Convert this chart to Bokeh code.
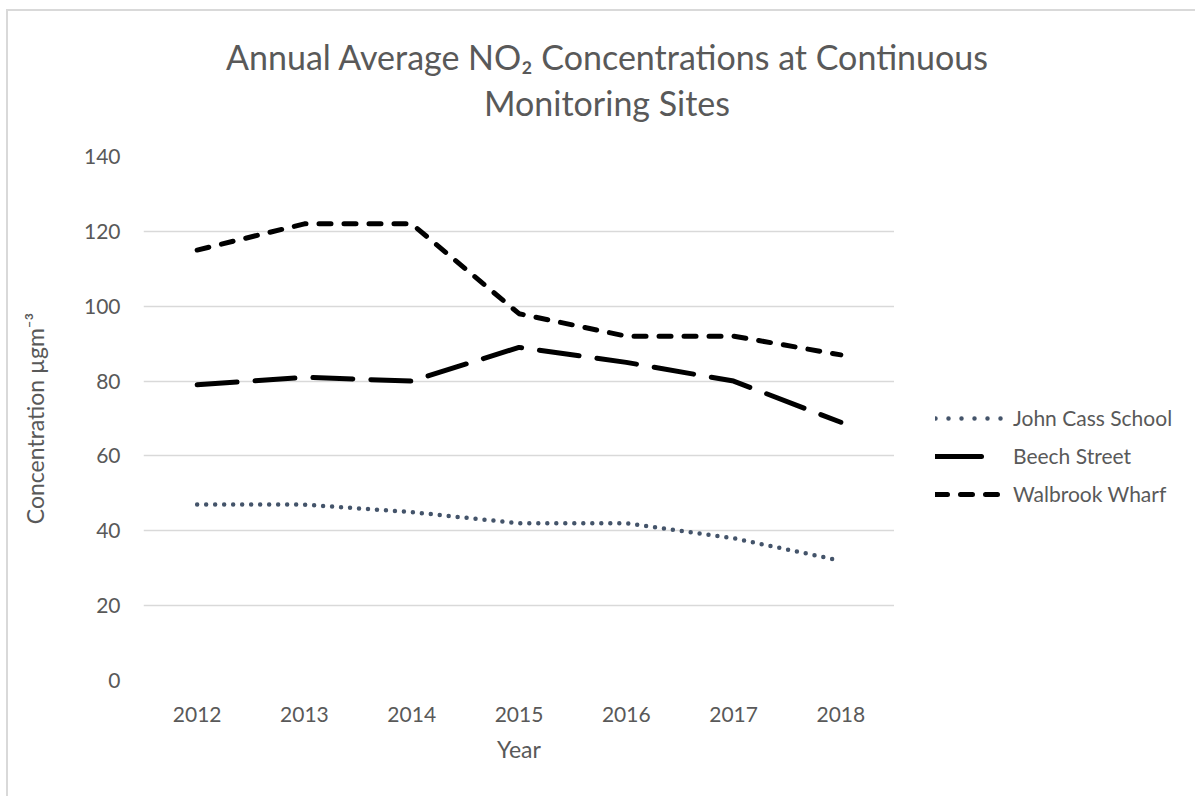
from bokeh.plotting import figure
from bokeh.layouts import row, column
from bokeh.models import Legend, LegendItem, FactorRange, Range1d, SingleIntervalTicker, Div
from bokeh.embed import file_html
from bokeh.resources import INLINE

years = ["2012", "2013", "2014", "2015", "2016", "2017", "2018"]
john_cass = [47, 47, 45, 42, 42, 38, 32]
beech_street = [79, 81, 80, 89, 85, 80, 69]
walbrook_wharf = [115, 122, 122, 98, 92, 92, 87]
series_names = ["John Cass School", "Beech Street", "Walbrook Wharf"]
title_lines = ["Annual Average NO\u2082 Concentrations at Continuous", "Monitoring Sites"]

FONT = "Lato"
TXT = "#595959"
GRID = "#d9d9d9"

# title block
title = Div(width=1195, height=130, margin=0,
            text=('<div style="display:block; width:1176px; margin-left:19px; font-family:Lato; '
                  'font-size:34px; color:#595959; text-align:center; line-height:46px; '
                  'padding-top:34px; white-space:nowrap;">'
                  + title_lines[0] + "<br>" + title_lines[1] + "</div>"))

p = figure(width=894, height=666, x_range=FactorRange(*years), y_range=Range1d(0, 140),
           output_backend="svg", toolbar_location=None, title_location=None,
           min_border_left=143, min_border_right=0, min_border_top=26, min_border_bottom=116)
p.outline_line_color = None
p.background_fill_color = "white"
p.border_fill_alpha = 0

# lines
p.line(years, john_cass, line_color="#44546a", line_width=4.5, line_dash="0 9", line_cap="round")
p.line(years, beech_street, line_color="black", line_width=5, line_dash="40 18", line_cap="round")
p.line(years, walbrook_wharf, line_color="black", line_width=5, line_dash="12 13", line_cap="round")

# axes
for ax in (p.xaxis[0], p.yaxis[0]):
    ax.axis_line_color = None
    ax.major_tick_line_color = None
    ax.minor_tick_line_color = None
    ax.major_label_text_font = FONT
    ax.major_label_text_font_size = "21px"
    ax.major_label_text_color = TXT
    ax.axis_label_text_font = FONT
    ax.axis_label_text_font_size = "23px"
    ax.axis_label_text_font_style = "normal"
    ax.axis_label_text_color = TXT

p.xaxis.axis_label = "Year"
p.yaxis.axis_label = "Concentration \u00b5gm\u207b\u00b3"
p.xaxis.major_label_standoff = 20
p.xaxis.axis_label_standoff = 10
p.yaxis.major_label_standoff = 17
p.yaxis.axis_label_standoff = 32
p.yaxis.ticker = SingleIntervalTicker(interval=20)

p.xgrid.grid_line_color = None
p.ygrid.grid_line_color = GRID
p.ygrid.grid_line_width = 1.5

# legend panel to the right of the plot area
q = figure(width=301, height=666, x_range=Range1d(0, 1), y_range=Range1d(0, 1),
           output_backend="svg", toolbar_location=None, title_location=None,
           x_axis_type=None, y_axis_type=None, min_border=0)
q.outline_line_color = None
q.background_fill_alpha = 0
q.border_fill_alpha = 0
q.grid.visible = False
nan = float("nan")
l1 = q.line([0], [nan], line_color="#44546a", line_width=4.5, line_dash="0 13", line_cap="round")
l2 = q.line([0], [nan], line_color="black", line_width=5, line_dash="46 100", line_cap="round")
l3 = q.line([0], [nan], line_color="black", line_width=5, line_dash="12 13", line_cap="round")

legend = Legend(items=[LegendItem(label=series_names[0], renderers=[l1]),
                       LegendItem(label=series_names[1], renderers=[l2]),
                       LegendItem(label=series_names[2], renderers=[l3])],
                location=(41, 174), padding=0, margin=0, border_line_color=None,
                background_fill_alpha=0, glyph_width=70, glyph_height=22, label_height=22,
                spacing=13, label_standoff=8, label_text_font=FONT, label_text_font_size="21px",
                label_text_color=TXT)
q.add_layout(legend, "center")

layout = column(title, row(p, q, spacing=0), spacing=0)
border = "linear-gradient(#d9d9d9, #d9d9d9)"
layout.styles = {"background": f"{border} 6px 9px / 2px 100% no-repeat, {border} 6px 9px / 100% 2px no-repeat, white"}

open("out.html", "w").write(file_html(layout, INLINE))
